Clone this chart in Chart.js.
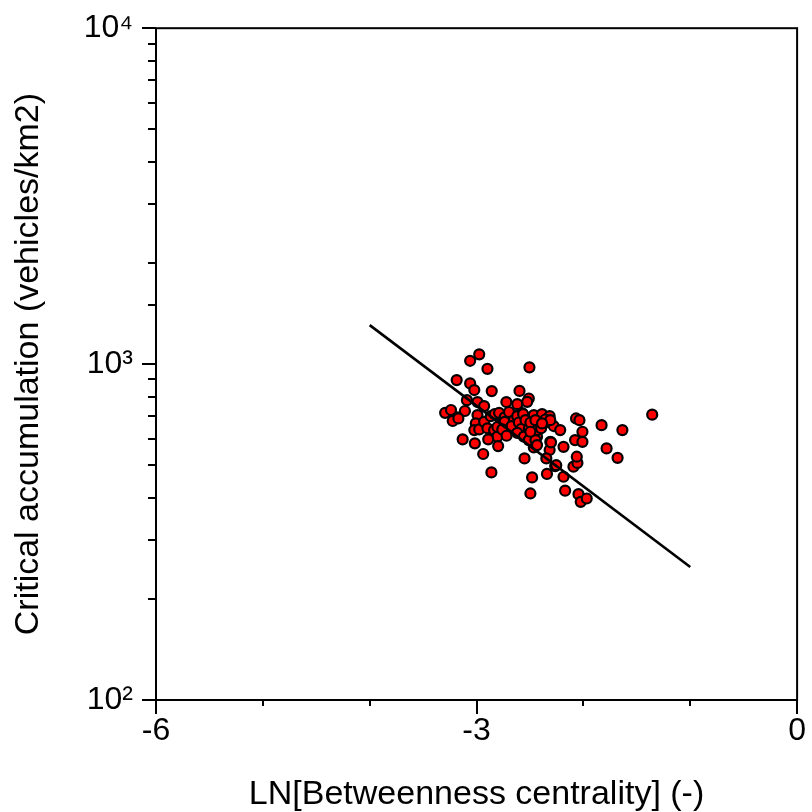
<!DOCTYPE html>
<html><head><meta charset="utf-8">
<script src="https://cdn.jsdelivr.net/npm/chart.js@4.4.0/dist/chart.umd.min.js"></script>
<style>html,body{margin:0;padding:0;background:#fff;}canvas{display:block;}</style>
</head><body>
<canvas id="c" width="812" height="812"></canvas>
<script>
const betweennessLn = [
-2.975, -3.06, -2.898, -2.505, -3.186, -3.06, -3.021, -2.858, -2.598, -3.09,
-2.991, -2.929, -2.721, -2.619, -2.511, -2.526, -3.294, -3.239, -3.109, -2.991,
-3.177, -2.789, -2.731, -2.666, -2.573, -3.223, -3.170, -3.007, -3.021, -2.975,
-2.929, -2.898, -2.836, -2.805, -2.798, -2.891, -3.130, -3.016, -2.938, -2.861,
-2.666, -2.619, -2.573, -2.526, -2.496, -2.464, -2.387, -2.316, -2.371, -2.278,
-2.217, -2.434, -2.464, -2.310, -2.316, -2.551, -2.347, -2.264, -2.186, -2.480,
-2.341, -2.496, -2.186, -2.171, -2.093, -2.056, -2.062, -2.078, -2.009, -2.009,
-2.069, -2.037, -1.830, -1.783, -1.680, -2.046, -2.025, -1.969, -1.635, -1.356,
-2.867, -2.830, -2.789, -2.737, -2.737, -2.696, -2.650, -2.672, -2.619, -2.604,
-2.564, -2.582, -2.542, -2.511, -2.496, -2.449, -2.434, -2.396, -2.356, -2.310,
-2.805, -2.759, -2.719, -2.619, -2.557, -2.511, -2.449, -2.434, -2.303, -2.254,
-2.387, -2.496
];
const criticalAccumulation = [
1069, 1023, 968, 978, 896, 876, 837, 831, 832, 781,
771, 750, 771, 760, 790, 772, 716, 730, 725, 705,
694, 705, 696, 705, 715, 677, 689, 666, 636, 639,
673, 644, 636, 608, 570, 597, 597, 581, 540, 476,
658, 644, 694, 666, 636, 705, 710, 700, 666, 654,
636, 608, 565, 587, 555, 524, 524, 497, 567, 460,
471, 412, 462, 420, 495, 508, 530, 594, 587, 629,
689, 681, 658, 561, 526, 410, 389, 398, 636, 707,
700, 710, 716, 694, 673, 720, 681, 654, 700, 670,
710, 641, 681, 641, 670, 681, 636, 644, 684, 681,
650, 639, 612, 624, 608, 594, 594, 574, 585, 500,
666, 629
];
const fitLineX = [-4, -1];
const fitLineY = [1306, 249];
const xMajorTicks = [-6, -3, 0];
const xTickLabels = ['-6', '-3', '0'];
const yMajorTicks = [100, 1000, 10000];
const yTickLabels = ['10\u00B2', '10\u00B3', '10\u2074'];

const FONT = '"Liberation Sans", Arial, sans-serif';

const scatterData = betweennessLn.map((x, i) => ({x: x, y: criticalAccumulation[i]}));
const lineData = fitLineX.map((x, i) => ({x: x, y: fitLineY[i]}));

const framePlugin = {
  id: 'frameTicks',
  afterDraw(chart) {
    const {ctx, chartArea: a} = chart;
    const xs = chart.scales.x, ys = chart.scales.y;
    ctx.save();
    ctx.strokeStyle = '#000';
    ctx.lineWidth = 2;
    ctx.lineCap = 'butt';
    ctx.strokeRect(a.left, a.top, a.right - a.left, a.bottom - a.top);
    xs.ticks.forEach(t => {
      const px = Math.round(xs.getPixelForValue(t.value));
      const major = xMajorTicks.some(m => Math.abs(m - t.value) < 1e-9);
      ctx.beginPath();
      ctx.moveTo(px, a.bottom);
      ctx.lineTo(px, a.bottom + (major ? 14 : 6));
      ctx.stroke();
    });
    ys.ticks.forEach(t => {
      const py = Math.round(ys.getPixelForValue(t.value));
      const major = yMajorTicks.some(m => Math.abs(m - t.value) < 1e-6);
      ctx.beginPath();
      ctx.moveTo(a.left, py);
      ctx.lineTo(a.left - (major ? 14 : 8), py);
      ctx.stroke();
    });
    ctx.restore();
  }
};

new Chart(document.getElementById('c'), {
  type: 'scatter',
  data: {
    datasets: [
      {
        type: 'line',
        data: lineData,
        borderColor: '#000',
        borderWidth: 2.6,
        pointRadius: 0,
        fill: false,
        order: 0
      },
      {
        data: scatterData,
        backgroundColor: '#ff0000',
        borderColor: '#000',
        borderWidth: 2.2,
        pointRadius: 5,
        order: 1
      }
    ]
  },
  options: {
    responsive: false,
    animation: false,
    layout: {padding: {top: 28, right: 10, left: 0, bottom: 0}},
    plugins: {legend: {display: false}, tooltip: {enabled: false}},
    scales: {
      x: {
        type: 'linear',
        min: -6, max: 0,
        grid: {drawOnChartArea: false, drawTicks: true, tickLength: 6, color: 'rgba(0,0,0,0)'},
        border: {display: false},
        ticks: {
          stepSize: 1,
          padding: 6,
          color: '#000',
          font: {family: FONT, size: 32},
          maxRotation: 0,
          autoSkip: false,
          callback: (v) => {
            const i = xMajorTicks.findIndex(m => Math.abs(m - v) < 1e-9);
            return i >= 0 ? xTickLabels[i] : '';
          }
        },
        title: {
          display: true,
          text: 'LN[Betweenness centrality] (-)',
          color: '#000',
          font: {family: FONT, size: 34, lineHeight: 1},
          padding: {top: 0, bottom: 0}
        },
        afterFit: (s) => { s.height = 112; }
      },
      y: {
        type: 'logarithmic',
        min: 100, max: 10000,
        grid: {drawOnChartArea: false, drawTicks: true, tickLength: 14, color: 'rgba(0,0,0,0)'},
        border: {display: false},
        ticks: {
          padding: 9,
          color: '#000',
          font: {family: FONT, size: 32},
          autoSkip: false,
          callback: (v) => {
            const i = yMajorTicks.findIndex(m => Math.abs(m - v) < 1e-6);
            return i >= 0 ? yTickLabels[i] : '';
          }
        },
        title: {
          display: true,
          text: 'Critical accumulation (vehicles/km2)',
          color: '#000',
          font: {family: FONT, size: 34, lineHeight: 1},
          padding: {top: 12, bottom: 0}
        },
        afterFit: (s) => { s.width = 156; }
      }
    }
  },
  plugins: [framePlugin]
});
</script>
</body></html>
